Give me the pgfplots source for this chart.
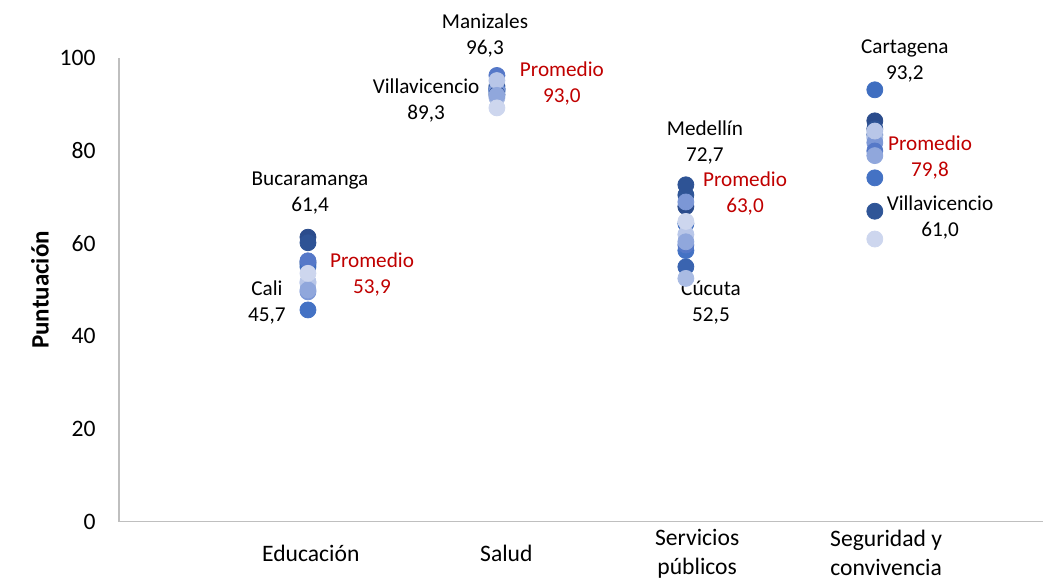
\documentclass[border=0pt]{standalone}
\usepackage{fontspec}
\setmainfont{Carlito}
\usepackage{pgfplots}
\pgfplotsset{compat=1.18}
\definecolor{axgray}{HTML}{BFBFBF}
\definecolor{promred}{HTML}{C00000}
\definecolor{s1}{HTML}{2F5597}
\definecolor{s2}{HTML}{3A64B0}
\definecolor{s3}{HTML}{2B4C8C}
\definecolor{s4}{HTML}{4472C4}
\definecolor{s5}{HTML}{3F6EC0}
\definecolor{s6}{HTML}{A9BBE3}
\definecolor{s7}{HTML}{7C97D6}
\definecolor{s8}{HTML}{5578C8}
\definecolor{s9}{HTML}{2E5395}
\definecolor{s10}{HTML}{B8C6E8}
\definecolor{s11}{HTML}{90A7DC}
\definecolor{s12}{HTML}{CDD6EE}
\tikzset{dlab/.style={align=center, inner sep=0pt, font=\fontsize{10.6}{13}\selectfont}}
\begin{document}
\begin{tikzpicture}
\useasboundingbox (-59.5pt,-29.15pt) rectangle (462.5pt,260.85pt);
\begin{axis}[
  at={(0,0)}, anchor=south west,
  scale only axis,
  width=462pt, height=231.7pt,
  xmin=0, xmax=4.89, ymin=0, ymax=100,
  clip=false,
  axis x line*=bottom, axis y line*=left,
  axis line style={-, draw=axgray, line width=0.75pt},
  major tick length=0pt,
  ytick={0,20,40,60,80,100},
  xtick={1.015,2.05,3.06,4.06},
  xticklabels={Educación,Salud,{Servicios\\públicos},{Seguridad y\\convivencia}},
  xticklabel style={anchor=center, align=center, yshift=-15.8pt, font=\fontsize{11.8}{14.5}\selectfont},
  yticklabel style={anchor=east, inner sep=0pt, xshift=-11.5pt, font=\fontsize{11.8}{14.5}\selectfont},
  /pgf/number format/assume math mode=true,
  every axis y label/.style={at={(axis description cs:-0.0855,0.5)}, anchor=center, rotate=90, font=\fontsize{12.5}{15}\selectfont\bfseries},
  ylabel={Puntuación},
  every axis plot/.append style={only marks, mark=*, mark size=4pt},
]
\addplot[color=s1] coordinates {(1,56.0) (2,93.5) (3,70.5) (4,67.0)};
\addplot[color=s2] coordinates {(1,55.6) (2,92.8) (3,55.0) (4,83.5)};
\addplot[color=s3] coordinates {(1,61.4) (2,94.0) (3,68.0) (4,86.5)};
\addplot[color=s4] coordinates {(1,45.7) (2,93.2) (3,58.5) (4,74.2)};
\addplot[color=s5] coordinates {(1,55.0) (2,93.3) (3,64.3) (4,93.2)};
\addplot[color=s6] coordinates {(1,51.5) (2,91.5) (3,52.5) (4,82.8)};
\addplot[color=s7] coordinates {(1,49.6) (2,93.0) (3,69.0) (4,81.8)};
\addplot[color=s8] coordinates {(1,56.3) (2,96.3) (3,59.7) (4,80.0)};
\addplot[color=s9] coordinates {(1,60.2) (2,92.2) (3,72.7) (4,84.8)};
\addplot[color=s10] coordinates {(1,51.8) (2,95.2) (3,62.0) (4,84.3)};
\addplot[color=s11] coordinates {(1,50.0) (2,92.0) (3,60.4) (4,79.0)};
\addplot[color=s12] coordinates {(1,53.6) (2,89.3) (3,64.8) (4,61.0)};

\node[dlab] at (axis cs:1.011,71.0) {Bucaramanga\\61,4};
\node[dlab] at (axis cs:0.783,47.2) {Cali\\45,7};
\node[dlab, text=promred] at (axis cs:1.339,53.3) {Promedio\\53,9};
\node[dlab] at (axis cs:1.937,105.0) {Manizales\\96,3};
\node[dlab] at (axis cs:1.625,90.9) {Villavicencio\\89,3};
\node[dlab, text=promred] at (axis cs:2.344,94.6) {Promedio\\93,0};
\node[dlab] at (axis cs:3.101,81.8) {Medellín\\72,7};
\node[dlab, text=promred] at (axis cs:3.313,70.9) {Promedio\\63,0};
\node[dlab] at (axis cs:3.133,47.2) {Cúcuta\\52,5};
\node[dlab] at (axis cs:4.159,99.4) {Cartagena\\93,2};
\node[dlab, text=promred] at (axis cs:4.292,78.6) {Promedio\\79,8};
\node[dlab] at (axis cs:4.345,65.6) {Villavicencio\\61,0};
\end{axis}
\end{tikzpicture}
\end{document}
